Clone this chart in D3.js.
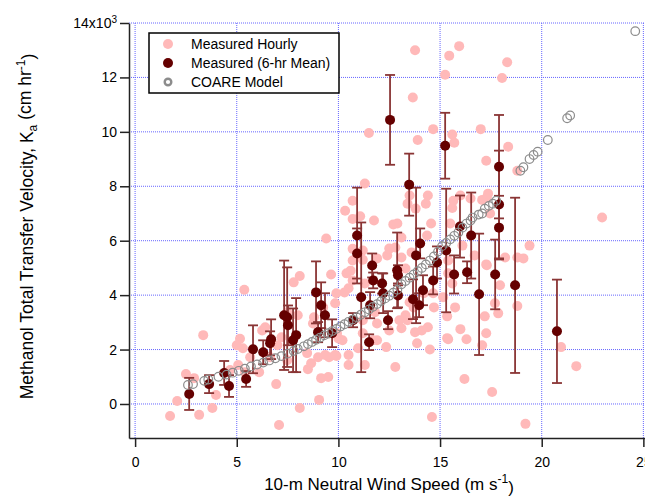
<!DOCTYPE html>
<html lang="en">
<head>
  <meta charset="UTF-8" />
  <title>Methanol Transfer Velocity vs Wind Speed</title>
  <style>
    body {
      margin: 0;
      background: #fff;
    }
    svg {
      display: block;
      font-family: "Liberation Sans", Arial, sans-serif;
    }
    .grid line {
      stroke: #6666ff;
      stroke-width: 1;
      stroke-dasharray: 1,1;
    }
    .axis path, .axis line {
      stroke: #222;
      stroke-width: 1.5px;
    }
    .axis text {
      font-size: 14px;
      fill: #000;
    }
    .legend text {
      font-size: 14px;
    }
  </style>
  <script src="https://d3js.org/d3.v7.min.js"></script>
</head>
<body>
  <svg id="chart" width="645" height="496"></svg>

  <script>
    // ---------- 1) Data (K in units of 10^3 cm/hr) ----------
    const hourlyWind = [
      1.72, 2.07, 2.50, 2.90, 3.35, 3.15, 3.80, 3.98, 5.16, 5.30, 6.25, 6.40, 6.10, 6.94, 8.10, 7.08,
      9.05, 8.50, 8.66, 8.46, 9.00, 9.15, 9.50, 9.54, 9.90, 10.50, 10.97, 11.30, 10.00, 10.20, 9.84, 10.50,
      8.80, 8.75, 7.80, 8.00, 7.48, 7.20, 7.00, 7.48, 6.64, 5.66, 5.07, 5.40, 4.67, 5.00, 11.90, 11.70,
      11.80, 11.50, 11.30, 10.70, 10.33, 10.70, 11.07, 11.75, 9.40, 10.70, 11.20, 10.70, 11.20, 10.60, 10.40, 9.64,
      8.10, 5.37, 11.30, 13.66, 13.77, 13.90, 14.66, 15.60, 15.70, 17.00, 18.35, 17.27, 18.80, 12.70, 12.90, 13.40,
      13.80, 14.30, 14.40, 13.50, 15.60, 16.00, 15.65, 16.50, 17.07, 17.30, 17.46, 14.56, 15.50, 14.36, 13.10, 16.10,
      16.70, 17.30, 17.95, 19.40, 18.80, 19.10, 12.80, 13.10, 13.60, 15.40, 15.40, 9.90, 15.25, 15.45, 15.94, 18.30,
      18.05, 17.36, 18.20, 17.70, 17.86, 18.80, 17.20, 17.27, 17.07, 16.30, 16.00, 15.74, 15.35, 15.15, 15.40, 14.50,
      14.40, 14.10, 13.77, 13.87, 13.10, 12.35, 12.80, 16.20, 17.56, 14.60, 19.20, 20.95, 21.70, 12.40, 13.00, 13.50,
      13.30, 14.20, 14.70, 17.27, 22.97, 9.25, 9.93, 9.84, 9.35, 10.50, 11.20, 11.20, 11.90, 13.40, 15.35, 11.07,
      11.90, 12.50, 13.30, 10.30, 10.70, 12.50, 13.70, 14.66, 15.60
    ];
    const hourlyK = [
      -0.44, 0.11, 1.10, 0.95, 2.53, -0.40, -0.15, 0.33, 2.40, 2.05, 2.70, 2.82, 1.17, 0.73, -0.15, -0.77,
      0.15, 1.28, 1.50, 1.87, 1.72, 0.95, 0.99, 1.72, 1.76, 1.43, 2.05, 1.43, 2.41, 2.34, 3.70, 4.25,
      3.19, 2.96, 4.47, 3.26, 3.37, 2.45, 2.16, 1.61, 1.72, 1.72, 1.43, 1.17, 1.25, 2.16, 2.96, 2.34,
      3.37, 9.96, 8.10, 7.47, 7.10, 6.80, 6.90, 6.74, 6.08, 5.70, 5.64, 5.27, 5.30, 4.90, 4.80, 4.76,
      4.70, 4.20, 4.43, 11.26, 13.00, 9.70, 10.10, 9.90, 9.60, 10.10, 9.45, 8.94, 8.57, 6.60, 6.63, 7.36,
      7.18, 7.36, 7.66, 7.66, 7.20, 7.66, 7.47, 7.55, 7.50, 7.58, 7.00, 6.63, 6.63, 6.19, 6.12, 5.82,
      5.46, 5.10, 4.36, 5.82, 5.38, 5.35, 5.75, 5.38, 5.57, 5.27, 4.80, 4.07, 12.10, 12.80, 13.15, 12.56,
      11.98, 7.73, 5.38, 3.70, 3.33, 3.60, 3.22, 2.60, 2.16, 2.38, 2.75, 3.55, 3.22, 3.92, 2.38, 2.00,
      2.82, 2.70, 2.64, 2.23, 2.78, 2.09, 1.36, 0.92, 0.44, -0.48, -0.73, 2.09, 1.39, 5.46, 3.08, 3.74,
      3.26, 4.07, 3.55, 5.13, 6.85, 3.55, 2.60, 1.80, 1.80, 1.80, 3.08, 2.60, 2.34, 3.08, 2.42, 5.46,
      5.35, 5.71, 4.98, 4.10, 4.54, 2.70, 3.55, 4.07, 4.43
    ];

    const meanWind = [
      2.66, 3.64, 4.38, 4.62, 5.46, 5.80, 6.30, 6.69, 6.64, 7.33, 7.48, 7.52, 7.77, 7.92, 8.90, 9.15,
      9.34, 9.00, 9.69, 10.72, 11.12, 10.92, 10.92, 11.51, 11.56, 11.66, 11.71, 12.20, 12.15, 12.44, 12.54, 12.93,
      12.93, 12.89, 13.48, 13.82, 14.02, 13.67, 13.97, 14.16, 14.66, 14.85, 15.25, 15.30, 15.69, 15.98, 16.33, 16.53,
      16.92, 17.71, 17.90, 17.90, 17.90, 18.69, 20.75
    ];
    const meanK = [
      0.37, 0.73, 1.14, 0.66, 0.92, 2.01, 1.90, 2.38, 2.23, 3.26, 3.19, 2.89, 2.34, 2.53, 4.10, 3.63,
      3.26, 2.64, 2.60, 3.08, 3.92, 6.19, 5.53, 2.27, 3.63, 5.09, 4.54, 4.07, 4.43, 3.08, 10.44, 4.73,
      3.99, 4.91, 8.06, 5.46, 5.90, 3.85, 3.63, 4.18, 4.54, 5.20, 9.49, 5.64, 4.76, 6.52, 4.84, 6.19,
      4.03, 4.76, 8.72, 7.33, 6.48, 4.36, 2.67
    ];
    const meanErr = [
      0.59, 0.33, 0.44, 0.40, 0.29, 0.88, 0.44, 0.73, 0.44, 2.01, 1.83, 0.73, 1.17, 1.36, 1.14, 0.84,
      0.81, 0.37, 0.51, 0.26, 2.75, 1.76, 0.92, 0.29, 0.48, 0.44, 0.29, 0.73, 0.37, 0.33, 1.65, 0.37,
      0.44, 1.39, 1.14, 2.49, 0.55, 0.73, 0.44, 0.55, 0.51, 0.59, 1.21, 2.27, 0.70, 1.14, 0.40, 1.58,
      2.23, 1.28, 1.90, 1.98, 1.17, 3.22, 1.90
    ];

    const coareWind = [
      2.60, 2.85, 3.40, 3.60, 4.10, 4.50, 4.80, 5.10, 5.40, 5.70, 6.00, 6.30, 6.60, 6.90, 7.20, 7.50,
      7.80, 8.00, 8.30, 8.50, 8.70, 8.90, 9.10, 9.30, 9.50, 9.70, 9.90, 10.10, 10.30, 10.50, 10.70, 10.90,
      11.10, 11.30, 11.50, 11.70, 11.90, 12.10, 12.30, 12.50, 12.70, 12.90, 13.10, 13.30, 13.50, 13.70, 13.90, 14.10,
      14.30, 14.50, 14.70, 14.90, 15.10, 15.30, 15.50, 15.70, 15.90, 16.10, 16.30, 16.50, 16.60, 16.90, 17.07, 17.20,
      17.40, 17.60, 17.76, 18.95, 19.10, 19.40, 19.60, 19.80, 20.30, 21.25, 21.40, 24.60
    ];
    const coareK = [
      0.70, 0.73, 0.85, 0.90, 1.00, 1.08, 1.15, 1.22, 1.30, 1.38, 1.45, 1.52, 1.60, 1.68, 1.76, 1.85,
      1.95, 2.02, 2.12, 2.20, 2.28, 2.36, 2.44, 2.52, 2.60, 2.68, 2.76, 2.85, 2.93, 3.02, 3.10, 3.19,
      3.28, 3.37, 3.47, 3.57, 3.67, 3.78, 3.88, 3.98, 4.09, 4.20, 4.40, 4.52, 4.64, 4.76, 4.88, 5.00,
      5.13, 5.27, 5.42, 5.60, 5.80, 5.92, 6.05, 6.18, 6.30, 6.48, 6.63, 6.74, 6.85, 6.96, 7.00, 7.18,
      7.28, 7.36, 7.47, 8.57, 8.70, 9.00, 9.15, 9.27, 9.70, 10.50, 10.60, 13.70
    ];

    const xTicks = [0, 5, 10, 15, 20, 25];
    const yTicks = [0, 2, 4, 6, 8, 10, 12, 14];
    const legendLabels = ["Measured Hourly", "Measured (6-hr Mean)", "COARE Model"];

    // ---------- 2) Scales ----------
    const svg = d3.select("#chart");
    const plotLeft = 129, plotRight = 645, plotTop = 23, plotBottom = 438;
    const x = d3.scaleLinear().domain([-0.3, 25.08]).range([plotLeft, plotRight]);
    const y = d3.scaleLinear().domain([-1.25, 14]).range([plotBottom, plotTop]);

    const pink = "#ffb9b9";
    const maroon = "#650000";
    const barColor = "#8a3535";
    const coareColor = "#8c8c8c";

    // ---------- 3) Dotted grid ----------
    const grid = svg.append("g").attr("class", "grid");
    grid.selectAll("line.v")
      .data(xTicks)
      .enter()
      .append("line")
      .attr("x1", d => x(d)).attr("x2", d => x(d))
      .attr("y1", plotTop).attr("y2", plotBottom);
    grid.selectAll("line.h")
      .data(yTicks)
      .enter()
      .append("line")
      .attr("x1", plotLeft).attr("x2", plotRight)
      .attr("y1", d => y(d)).attr("y2", d => y(d));

    // ---------- 4) Axes ----------
    svg.append("g")
      .attr("class", "axis")
      .attr("transform", `translate(0,${plotBottom})`)
      .call(d3.axisBottom(x).tickValues(xTicks).tickSize(9).tickSizeOuter(0).tickPadding(10));

    const yAxis = svg.append("g")
      .attr("class", "axis")
      .attr("transform", `translate(${plotLeft},0)`)
      .call(d3.axisLeft(y).tickValues(yTicks).tickSize(9).tickSizeOuter(0).tickPadding(3));

    svg.selectAll(".axis").attr("font-family", null).attr("font-size", null);

    // top y label gets the x10^3 multiplier
    yAxis.selectAll(".tick text")
      .filter(d => d === 14)
      .text("14x10")
      .append("tspan")
      .attr("dy", "-0.5em")
      .attr("font-size", "10px")
      .text("3");

    // ---------- 5) Measured hourly ----------
    const hourly = hourlyWind.map((w, i) => ({ w, k: hourlyK[i] }));
    svg.append("g")
      .selectAll("circle")
      .data(hourly)
      .enter()
      .append("circle")
      .attr("cx", d => x(d.w))
      .attr("cy", d => y(d.k))
      .attr("r", 5)
      .attr("fill", pink);

    // ---------- 6) 6-hr means with error bars ----------
    const means = meanWind.map((w, i) => ({ w, k: meanK[i], e: meanErr[i] }));
    const bars = svg.append("g")
      .attr("stroke", barColor)
      .attr("stroke-width", 1.8);
    bars.selectAll("line.bar")
      .data(means)
      .enter()
      .append("line")
      .attr("x1", d => x(d.w)).attr("x2", d => x(d.w))
      .attr("y1", d => y(d.k - d.e)).attr("y2", d => y(d.k + d.e));
    bars.selectAll("line.capTop")
      .data(means)
      .enter()
      .append("line")
      .attr("x1", d => x(d.w) - 5).attr("x2", d => x(d.w) + 5)
      .attr("y1", d => y(d.k + d.e)).attr("y2", d => y(d.k + d.e));
    bars.selectAll("line.capBot")
      .data(means)
      .enter()
      .append("line")
      .attr("x1", d => x(d.w) - 5).attr("x2", d => x(d.w) + 5)
      .attr("y1", d => y(d.k - d.e)).attr("y2", d => y(d.k - d.e));

    svg.append("g")
      .selectAll("circle")
      .data(means)
      .enter()
      .append("circle")
      .attr("cx", d => x(d.w))
      .attr("cy", d => y(d.k))
      .attr("r", 5)
      .attr("fill", maroon);

    // ---------- 7) COARE model ----------
    const coare = coareWind.map((w, i) => ({ w, k: coareK[i] }));
    svg.append("g")
      .selectAll("circle")
      .data(coare)
      .enter()
      .append("circle")
      .attr("cx", d => x(d.w))
      .attr("cy", d => y(d.k))
      .attr("r", 4.3)
      .attr("fill", "none")
      .attr("stroke", coareColor)
      .attr("stroke-width", 1.2);

    // ---------- 8) Axis titles ----------
    const xTitle = svg.append("text")
      .attr("x", 389)
      .attr("y", 490)
      .attr("text-anchor", "middle")
      .attr("font-size", "17px");
    xTitle.append("tspan").text("10-m Neutral Wind Speed (m s");
    xTitle.append("tspan").attr("dy", "-0.55em").attr("font-size", "12px").text("-1");
    xTitle.append("tspan").attr("dy", "0.55em").text(")");

    const yTitle = svg.append("text")
      .attr("transform", `translate(33,${(plotTop + plotBottom) / 2 - 4}) rotate(-90)`)
      .attr("text-anchor", "middle")
      .attr("font-size", "17.5px");
    yTitle.append("tspan").text("Methanol Total Transfer Velocity, K");
    yTitle.append("tspan").attr("dy", "0.3em").attr("font-size", "12px").text("a");
    yTitle.append("tspan").attr("dy", "-0.3em").text(" (cm hr");
    yTitle.append("tspan").attr("dy", "-0.55em").attr("font-size", "12px").text("-1");
    yTitle.append("tspan").attr("dy", "0.55em").text(")");

    // ---------- 9) Legend ----------
    const legend = svg.append("g").attr("class", "legend");
    legend.append("rect")
      .attr("x", 149).attr("y", 33)
      .attr("width", 190).attr("height", 60)
      .attr("fill", "#fff")
      .attr("stroke", "#000")
      .attr("stroke-width", 1.5);

    const rowY = [44, 63, 82];
    legend.append("circle").attr("cx", 168).attr("cy", rowY[0]).attr("r", 5).attr("fill", pink);
    legend.append("circle").attr("cx", 168).attr("cy", rowY[1]).attr("r", 5).attr("fill", maroon);
    legend.append("circle").attr("cx", 168).attr("cy", rowY[2]).attr("r", 3.3)
      .attr("fill", "none").attr("stroke", coareColor).attr("stroke-width", 2.4);

    legend.selectAll("text")
      .data(legendLabels)
      .enter()
      .append("text")
      .attr("x", 191)
      .attr("y", (d, i) => rowY[i] + 5)
      .text(d => d);
  </script>
</body>
</html>
